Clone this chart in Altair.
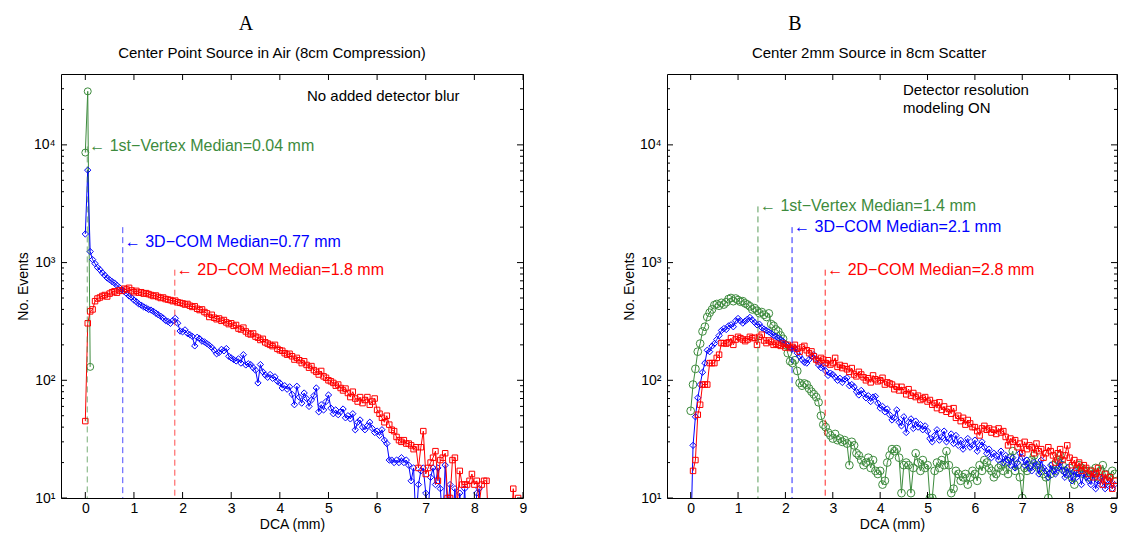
import altair as alt
import pandas as pd

# ---------------- data ----------------
dca_bins = [round(0.05 * i, 2) for i in range(180)]   # bin centres (mm)

# Panel A : Center Point Source in Air (8cm Compression)
a_vertex_x = [0.00, 0.05, 0.10]
a_vertex = [8600, 28500, 130]
a_com3d = [
    1750, 6100, 1240, 1060, 980, 910, 870, 820, 780, 740,
    715, 690, 670, 640, 615, 590, 570, 545, 520, 505,
    480, 465, 445, 435, 420, 412, 400, 395, 385, 372,
    360, 350, 338, 322, 316, 305, 322, 336, 305, 262,
    258, 268, 250, 244, 236, 196, 232, 226, 215, 212,
    205, 198, 190, 180, 168, 172, 183, 178, 186, 160,
    155, 150, 146, 152, 140, 165, 135, 138, 136, 128,
    122, 95, 136, 118, 111, 106, 112, 104, 107, 98,
    95, 86, 90, 84, 88, 76, 62, 89, 72, 64,
    78, 70, 60, 68, 74, 86, 54, 62, 56, 66,
    75, 58, 52, 56, 51, 54, 57, 48, 50, 47,
    52, 38, 44, 46, 40, 38, 41, 44, 39, 36,
    37, 34, 38, 31, 29, 21, 21, 20, 21, 20,
    22, 20, 21, 19, 14, 18, 6, 13, 17, 18,
    11, 8, 15, 18, 13, 18, 12, 6, 19, 8,
    13, 6, 12, 5, 11, 5, 12, 5, 4, 4,
    5, 11, 12, 4, 3, 3, 3, 3, 3, 3,
    3, 3, 3, 3, 3, 3, 3, 3, 3, 3,
]
a_com2d = [
    45, 305, 385, 400, 470, 495, 505, 520, 530, 515,
    545, 560, 570, 555, 580, 575, 600, 590, 610, 580,
    560, 575, 555, 560, 545, 550, 540, 530, 520, 525,
    510, 500, 505, 490, 485, 480, 470, 475, 460, 455,
    450, 440, 445, 430, 420, 425, 405, 395, 400, 380,
    370, 345, 360, 340, 330, 335, 320, 325, 310, 300,
    305, 290, 295, 275, 270, 280, 260, 250, 245, 250,
    235, 230, 220, 225, 210, 205, 200, 195, 200, 185,
    180, 178, 170, 165, 168, 160, 150, 155, 148, 140,
    145, 135, 128, 132, 122, 118, 112, 120, 108, 105,
    100, 98, 95, 90, 92, 86, 82, 85, 78, 72,
    80, 70, 66, 72, 64, 68, 72, 62, 66, 70,
    56, 52, 48, 44, 50, 42, 38, 37, 33, 31,
    30, 31, 29, 29, 28, 26, 27, 18, 27, 37,
    16, 18, 20, 22, 25, 14, 21, 22, 24, 10,
    10, 21, 22, 9, 17, 13, 13, 13, 14, 16,
    13, 14, 9, 13, 14, 14, 5, 3, 3, 3,
    3, 3, 3, 3, 3, 5, 12, 5, 10, 3,
]

# Panel B : Center 2mm Source in 8cm Scatter
b_vertex = [
    55, 92, 125, 175, 205, 260, 285, 345, 375, 400,
    435, 445, 430, 455, 440, 460, 490, 500, 470, 495,
    480, 465, 470, 450, 440, 425, 400, 410, 390, 372,
    380, 360, 345, 370, 300, 290, 270, 260, 240, 225,
    200, 170, 145, 140, 148, 120, 95, 90, 94, 92,
    85, 80, 76, 72, 65, 50, 42, 40, 36, 34,
    32, 35, 31, 32, 30, 31, 29, 19, 30, 28,
    24, 23, 21, 19, 20, 22, 18, 21, 17, 16,
    17, 13, 14, 20, 23, 26, 25, 26, 22, 11,
    19, 20, 19, 11, 18, 24, 20, 17, 21, 18,
    19, 10, 10, 17, 20, 18, 21, 19, 25, 19,
    11, 12, 17, 16, 14, 15, 16, 13, 15, 17,
    16, 14, 19, 17, 21, 20, 18, 17, 15, 16,
    18, 19, 17, 20, 16, 22, 25, 17, 19, 15,
    10, 18, 17, 19, 21, 23, 19, 18, 17, 16,
    15, 10, 16, 19, 17, 21, 23, 19, 17, 16,
    18, 15, 13, 17, 19, 18, 16, 17, 15, 17,
    16, 18, 15, 17, 19, 16, 14, 15, 17, 16,
]
b_com3d = [
    4, 28, 49, 71, 92, 117, 140, 180, 175, 195,
    205, 222, 240, 265, 275, 270, 290, 296, 285, 320,
    335, 320, 306, 318, 330, 342, 325, 310, 296, 300,
    280, 272, 265, 258, 250, 240, 236, 228, 221, 214,
    205, 198, 190, 185, 188, 170, 160, 150, 142, 140,
    150, 160, 165, 150, 135, 128, 132, 120, 110, 115,
    112, 106, 100, 104, 96, 102, 105, 90, 92, 88,
    80, 75, 82, 77, 71, 74, 66, 72, 73, 64,
    58, 60, 54, 57, 51, 46, 48, 56, 44, 41,
    49, 36, 44, 47, 39, 45, 40, 42, 38, 41,
    37, 32, 30, 34, 38, 31, 33, 37, 30, 32,
    35, 29, 34, 28, 31, 26, 29, 32, 27, 28,
    31, 25, 28, 30, 27, 24, 26, 22, 24, 23,
    21, 25, 20, 23, 21, 19, 22, 18, 20, 24,
    22, 19, 21, 18, 17, 20, 19, 16, 21, 18,
    17, 15, 19, 17, 16, 18, 20, 17, 15, 18,
    16, 14, 17, 15, 16, 13, 16, 15, 14, 13,
    16, 12, 14, 13, 15, 12, 13, 14, 12, 13,
]
b_com2d = [
    None, 17, 21, 51, 62, 92, 92, 92, 140, 140,
    140, 155, 165, 207, 207, 205, 210, 228, 200, 222,
    234, 228, 222, 215, 222, 234, 228, 230, 200, 234,
    244, 218, 207, 218, 212, 200, 205, 200, 196, 205,
    190, 200, 188, 192, 200, 185, 175, 190, 196, 180,
    170, 176, 160, 150, 145, 155, 150, 140, 148, 136,
    140, 155, 130, 135, 127, 132, 124, 118, 127, 112,
    108, 118, 112, 106, 100, 104, 96, 110, 102, 98,
    100, 105, 92, 96, 94, 92, 84, 88, 82, 88,
    82, 76, 84, 74, 78, 72, 74, 68, 70, 72,
    66, 68, 62, 64, 58, 65, 56, 60, 54, 57,
    52, 58, 48, 50, 45, 48, 42, 46, 43, 40,
    40, 37, 34, 39, 41, 38, 39, 36, 38, 35,
    39, 36, 37, 33, 28, 32, 30, 31, 27, 29,
    24, 30, 26, 28, 27, 24, 29, 25, 26, 22,
    24, 27, 25, 23, 20, 24, 26, 21, 23, 28,
    22, 19, 21, 18, 20, 17, 19, 18, 16, 17,
    15, 16, 18, 15, 13, 16, 14, 15, 12, 14,
]

series_names = ["1st-Vertex", "3D-COM", "2D-COM"]
series_colors = ["#3d8b3d", "#0000ff", "#ff0000"]

a_med_x = [0.04, 0.77, 1.84]
a_med_top = [9700, 2000, 870]
a_lab_y = [9700, 1510, 870]
a_labels = ["\u2190 1st\u2212Vertex Median=0.04 mm",
            "\u2190 3D\u2212COM Median=0.77 mm",
            "\u2190 2D\u2212COM Median=1.8 mm"]

b_med_x = [1.42, 2.14, 2.84]
b_med_top = [3000, 2000, 870]
b_lab_y = [3000, 2000, 870]
b_labels = ["\u2190 1st\u2212Vertex Median=1.4 mm",
            "\u2190 3D\u2212COM Median=2.1 mm",
            "\u2190 2D\u2212COM Median=2.8 mm"]

x_ticks = [0, 1, 2, 3, 4, 5, 6, 7, 8, 9]
y_major = [10, 100, 1000, 10000]
y_minor = [m * d for d in [10, 100, 1000] for m in range(2, 10)] + [20000, 30000]

H = 424
FONT = "Liberation Sans"
XS = alt.Scale(domain=[-0.5, 9], nice=False, zero=False)
YS = alt.Scale(type="log", domain=[10, 40000], nice=False)
color_scale = alt.Scale(domain=series_names, range=series_colors)

ylabel_expr = ("datum.value == 10 ? '10\u00b9' : datum.value == 100 ? '10\u00b2' : "
               "datum.value == 1000 ? '10\u00b3' : '10\u2074'")

AX_STYLE = dict(domain=False, ticks=False, grid=False, labelFont=FONT, labelFontSize=14,
                labelColor="black", titleFont=FONT, titleFontSize=14, titleFontWeight="normal",
                titleColor="black", labelOverlap=False)
YAX = alt.Axis(values=y_major, labelExpr=ylabel_expr, title="No. Events", labelFlush=False,
               labelPadding=6, titlePadding=3, **AX_STYLE)


def make_xax(flush):
    return alt.Axis(values=x_ticks, title="DCA (mm)", labelPadding=3, titlePadding=2,
                    format="d", labelFlush=flush, **AX_STYLE)


def build_panel(W, curves, med, notes, xax):
    def xenc(field):
        return alt.X(field, scale=XS, axis=xax)

    def yenc(field):
        return alt.Y(field, scale=YS, axis=YAX)

    layers = []
    for x, y, color, shape, size in curves:
        df = pd.DataFrame({"dca": x, "events": y}).dropna()
        base = alt.Chart(df)
        layers.append(base.mark_line(color=color, strokeWidth=1, clip=True).encode(
            x=xenc("dca:Q"), y=yenc("events:Q")))
        layers.append(base.mark_point(shape=shape, size=size, color=color, filled=False,
                                      strokeWidth=1, opacity=1, clip=True).encode(
            x=xenc("dca:Q"), y=yenc("events:Q")))

    mx, mtop, ly, labels, opacity = med
    mdf = pd.DataFrame({"series": series_names, "dca": mx, "events": mtop, "ly": ly, "label": labels})
    c = alt.Chart(mdf)
    layers.append(c.mark_rule(strokeDash=[6, 4], strokeWidth=1, opacity=opacity).encode(
        x=xenc("dca:Q"), y=yenc("events:Q"), y2=alt.value(H),
        color=alt.Color("series:N", scale=color_scale, legend=None)))
    layers.append(c.mark_text(align="left", baseline="middle", dx=2, font=FONT, fontSize=16).encode(
        x=xenc("dca:Q"), y=alt.Y("ly:Q", scale=YS, axis=YAX), text="label:N",
        color=alt.Color("series:N", scale=color_scale, legend=None)))

    xt = alt.Chart(pd.DataFrame({"dca": x_ticks}))
    ymaj = alt.Chart(pd.DataFrame({"events": y_major}))
    ymin = alt.Chart(pd.DataFrame({"events": y_minor}))
    k = dict(color="black", strokeWidth=1)
    layers += [
        xt.mark_rule(**k).encode(x=xenc("dca:Q"), y=alt.value(H), y2=alt.value(H - 6)),
        xt.mark_rule(**k).encode(x=xenc("dca:Q"), y=alt.value(0), y2=alt.value(6)),
        ymaj.mark_rule(**k).encode(y=yenc("events:Q"), x=alt.value(0), x2=alt.value(6)),
        ymaj.mark_rule(**k).encode(y=yenc("events:Q"), x=alt.value(W), x2=alt.value(W - 6)),
        ymin.mark_rule(**k).encode(y=yenc("events:Q"), x=alt.value(0), x2=alt.value(3)),
        ymin.mark_rule(**k).encode(y=yenc("events:Q"), x=alt.value(W), x2=alt.value(W - 3)),
    ]

    for text, x, y, size, font, align in notes:
        layers.append(alt.Chart(pd.DataFrame({"k": [0]})).mark_text(
            align=align, baseline="middle", font=font, fontSize=size, color="black"
        ).encode(x=alt.value(x), y=alt.value(y), text=alt.value(text)))
    return alt.layer(*layers).properties(width=W, height=H)


SERIF = "Liberation Serif"
panel_a = build_panel(
    462,
    [(a_vertex_x, a_vertex, series_colors[0], "circle", 49),
     (dca_bins, a_com3d, series_colors[1], "diamond", 40),
     (dca_bins, a_com2d, series_colors[2], "square", 30)],
    (a_med_x, a_med_top, a_lab_y, a_labels, 0.7),
    [("No added detector blur", 246, 22, 15, FONT, "left"),
     ("Center Point Source in Air (8cm Compression)", 211, -21, 15, FONT, "center"),
     ("A", 185, -50, 20, SERIF, "center")],
    make_xax(False),
)

panel_b = build_panel(
    450,
    [(dca_bins, b_vertex, series_colors[0], "circle", 60),
     (dca_bins, b_com3d, series_colors[1], "diamond", 40),
     (dca_bins, b_com2d, series_colors[2], "square", 30)],
    (b_med_x, b_med_top, b_lab_y, b_labels, 0.85),
    [("Detector resolution", 236, 16, 15, FONT, "left"),
     ("modeling ON", 236, 34, 15, FONT, "left"),
     ("Center 2mm Source in 8cm Scatter", 202, -21, 15, FONT, "center"),
     ("B", 128, -50, 20, SERIF, "center")],
    make_xax(True),
)

chart = alt.hconcat(panel_a, panel_b, spacing=93).properties(
    padding={"left": 7, "top": 5, "right": 0, "bottom": 2}
).configure(background="white").configure_view(stroke="black", strokeWidth=1)

chart.save("out.html", embed_options={"renderer": "svg", "actions": False})
